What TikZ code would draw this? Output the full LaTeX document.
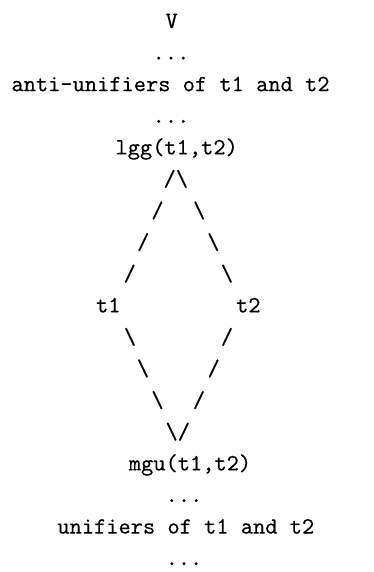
\documentclass[tikz,border=0pt]{standalone}
\usepackage{fontspec}
% the 10pt design of Latin Modern Mono, scaled up and a little heavier
\newfontfamily\asciifont{lmmono10-regular.otf}[FakeBold=0.3]
\begin{document}
\begin{tikzpicture}[x=1pt,y=-1pt,
  every node/.style={inner sep=0pt,outer sep=0pt,anchor=base,
    font=\asciifont\fontsize{23.3}{28}\selectfont}]
\useasboundingbox (0,0) rectangle (374,572);
% baselines: 28 + 31.6*i
\node (v)     at (171.7, 28.0)  {V};
\node (dotsA) at (171.0, 59.6)  {...};
\node (anti)  at (170.5, 91.2)  {anti-unifiers of t1 and t2};
\node (dotsB) at (171.0, 122.8) {...};
\node (lgg)   at (176.7, 154.4) {lgg(t1,t2)};
\node (top)   at (175.8, 186.0) {/\textbackslash};
\node (l1)    at (157.5, 217.6) {/};
\node (r1)    at (199.2, 217.6) {\textbackslash};
\node (l2)    at (143.3, 249.2) {/};
\node (r2)    at (213.3, 249.2) {\textbackslash};
\node (l3)    at (129.7, 280.8) {/};
\node (r3)    at (227.0, 280.8) {\textbackslash};
\node (t1)    at (108.3, 312.4) {t1};
\node (t2)    at (248.3, 312.4) {t2};
\node (l4)    at (130.0, 344.0) {\textbackslash};
\node (r4)    at (227.0, 344.0) {/};
\node (l5)    at (143.0, 375.6) {\textbackslash};
\node (r5)    at (213.7, 375.6) {/};
\node (l6)    at (157.5, 407.2) {\textbackslash};
\node (r6)    at (199.0, 407.2) {/};
\node (bot)   at (177.8, 438.8) {\textbackslash/};
\node (mgu)   at (190.0, 470.4) {mgu(t1,t2)};
\node (dotsC) at (184.0, 502.0) {...};
\node (unif)  at (185.8, 533.6) {unifiers of t1 and t2};
\node (dotsD) at (184.0, 565.2) {...};
\end{tikzpicture}
\end{document}
